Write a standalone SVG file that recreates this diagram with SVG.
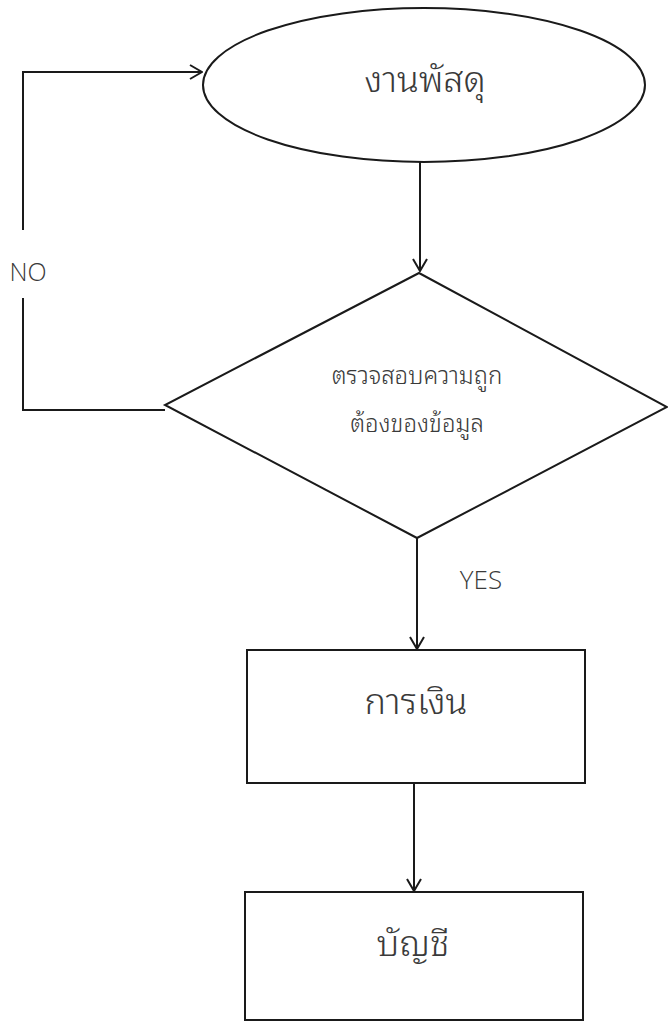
<svg xmlns="http://www.w3.org/2000/svg" width="668" height="1023" viewBox="0 0 668 1023">
<style>
.shape{fill:#fff;stroke:#1a1a1a;stroke-width:2}
.conn{fill:none;stroke:#1a1a1a;stroke-width:2}
.t{font-family:"Noto Sans Thai Looped","Noto Sans Thai","Noto Sans","DejaVu Sans",sans-serif;fill:#3a3a3a;text-anchor:middle;font-weight:300}
.lbl{font-family:"Open Sans","Noto Sans",sans-serif;fill:#3a3a3a;font-weight:300}
</style>
<defs>
<marker id="arr" viewBox="0 0 14 16" refX="13" refY="8" markerWidth="14" markerHeight="16" markerUnits="userSpaceOnUse" orient="auto">
<path d="M1,1 L13,8 L1,15" fill="none" stroke="#1a1a1a" stroke-width="2"/>
</marker>
</defs>
<rect width="668" height="1023" fill="#fff"/>
<g id="connectors">
<line class="conn" x1="420" y1="162" x2="420" y2="271" marker-end="url(#arr)"/>
<polyline class="conn" points="165,410 23,410 23,298"/>
<polyline class="conn" points="23,230 23,72 202,72" marker-end="url(#arr)"/>
<line class="conn" x1="417" y1="538" x2="417" y2="649" marker-end="url(#arr)"/>
<line class="conn" x1="414" y1="783" x2="414" y2="891" marker-end="url(#arr)"/>
<text class="lbl" x="28" y="281" text-anchor="middle" font-size="25">NO</text>
<text class="lbl" x="481" y="589" text-anchor="middle" font-size="26">YES</text>
</g>
<g id="node-supply">
<ellipse class="shape" cx="424" cy="85" rx="221" ry="77"/>
<text class="t" x="425" y="92" font-size="36">งานพัสดุ</text>
</g>
<g id="node-check">
<polygon class="shape" points="419,273 667,407 417,538 165,405"/>
<text class="t" x="417" y="384" font-size="24">ตรวจสอบความถูก</text>
<text class="t" x="417" y="432" font-size="24">ต้องของข้อมูล</text>
</g>
<g id="node-finance">
<rect class="shape" x="247" y="650" width="338" height="133"/>
<text class="t" x="416" y="714" font-size="36">การเงิน</text>
</g>
<g id="node-accounting">
<rect class="shape" x="245" y="892" width="338" height="128"/>
<text class="t" x="413" y="956" font-size="36">บัญชี</text>
</g>
</svg>
